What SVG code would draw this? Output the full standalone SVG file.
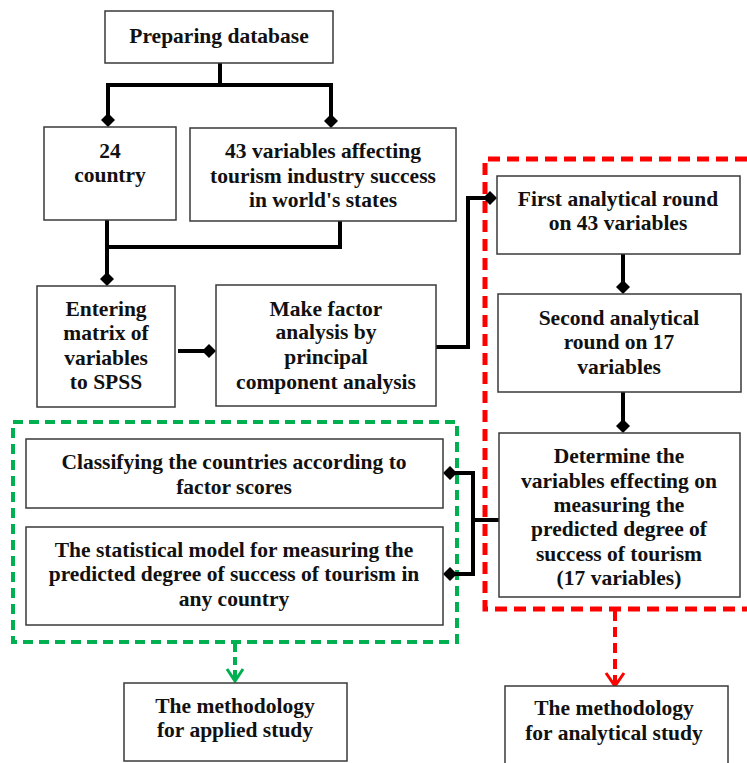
<svg xmlns="http://www.w3.org/2000/svg" width="747" height="763" viewBox="0 0 747 763">
<defs>
<style>
.box{fill:#fff;stroke:#3a3a3a;stroke-width:1.5}
.t{font-family:"Liberation Serif","Times New Roman",serif;font-weight:bold;font-size:21.5px;text-anchor:middle;fill:#111}
.c{fill:none;stroke:#000;stroke-width:4}
.red{fill:none;stroke:#ff0000;stroke-width:5;stroke-dasharray:12 7}
.green{fill:none;stroke:#00b050;stroke-width:4;stroke-dasharray:10 6}
</style>
<marker id="dia" viewBox="0 0 14 14" refX="7" refY="7" markerWidth="14" markerHeight="14" markerUnits="userSpaceOnUse" orient="auto">
<path d="M7 0 L14 7 L7 14 L0 7 Z" fill="#000"/>
</marker>
</defs>
<rect width="747" height="763" fill="#fff"/>

<g id="groups">
<path class="red" d="M747 159 H485 V609 H747"/>
<path class="green" d="M13 422 H457 V642 H13 Z"/>
</g>

<g id="connectors">
<path class="c" d="M220 63 V85 H108 V120" marker-end="url(#dia)"/>
<path class="c" d="M220 85 H331 V121" marker-end="url(#dia)"/>
<path class="c" d="M107 220 V247 H340 V221"/>
<path class="c" d="M107 247 V279" marker-end="url(#dia)"/>
<path class="c" d="M178 351 H209" marker-end="url(#dia)"/>
<path class="c" d="M436 347 H468 V198 H490" marker-end="url(#dia)"/>
<path class="c" d="M623 254 V287" marker-end="url(#dia)"/>
<path class="c" d="M623 392 V426" marker-end="url(#dia)"/>
<path class="c" d="M450 473 H473 V574 H450" marker-start="url(#dia)" marker-end="url(#dia)"/>
<path class="c" d="M473 520 H499"/>
<path fill="none" stroke="#00b050" stroke-width="4" stroke-dasharray="8 5" d="M235 644 V680"/>
<path fill="none" stroke="#00b050" stroke-width="3" d="M227 669 L235 681 L243 669"/>
<path fill="none" stroke="#ff0000" stroke-width="4" stroke-dasharray="10 6" d="M615 611 V685"/>
<path fill="none" stroke="#ff0000" stroke-width="3" d="M606 673 L615 686 L624 673"/>
</g>

<g id="n1"><rect class="box" x="105" y="11" width="228" height="52"/><text class="t" x="219" y="43">Preparing database</text></g>
<g id="n2"><rect class="box" x="44" y="127" width="132" height="93"/><text class="t" x="110" y="158">24</text><text class="t" x="110" y="182">country</text></g>
<g id="n3"><rect class="box" x="190" y="128" width="266" height="93"/><text class="t" x="323" y="158">43 variables affecting</text><text class="t" x="323" y="183">tourism industry success</text><text class="t" x="323" y="207">in world's states</text></g>
<g id="n4"><rect class="box" x="37" y="286" width="138" height="121"/><text class="t" x="106" y="316">Entering</text><text class="t" x="106" y="340">matrix of</text><text class="t" x="106" y="365">variables</text><text class="t" x="106" y="389">to SPSS</text></g>
<g id="n5"><rect class="box" x="216" y="285" width="220" height="121"/><text class="t" x="326" y="316">Make factor</text><text class="t" x="326" y="339">analysis by</text><text class="t" x="326" y="364">principal</text><text class="t" x="326" y="389">component analysis</text></g>
<g id="n6"><rect class="box" x="497" y="176" width="243" height="78"/><text class="t" x="618" y="206">First analytical round</text><text class="t" x="618" y="230">on 43 variables</text></g>
<g id="n7"><rect class="box" x="498" y="294" width="243" height="98"/><text class="t" x="619" y="325">Second analytical</text><text class="t" x="619" y="349">round on 17</text><text class="t" x="619" y="374">variables</text></g>
<g id="n8"><rect class="box" x="499" y="433" width="241" height="164"/><text class="t" x="619" y="463">Determine the</text><text class="t" x="619" y="488">variables effecting on</text><text class="t" x="619" y="512">measuring the</text><text class="t" x="619" y="536">predicted degree of</text><text class="t" x="619" y="561">success of tourism</text><text class="t" x="619" y="585">(17 variables)</text></g>
<g id="n9"><rect class="box" x="26" y="439" width="417" height="69"/><text class="t" x="234" y="469">Classifying the countries according to</text><text class="t" x="234" y="494">factor scores</text></g>
<g id="n10"><rect class="box" x="26" y="527" width="417" height="98"/><text class="t" x="234" y="557">The statistical model for measuring the</text><text class="t" x="234" y="581">predicted degree of success of tourism in</text><text class="t" x="234" y="606">any country</text></g>
<g id="n11"><rect class="box" x="124" y="683" width="223" height="78"/><text class="t" x="235" y="713">The methodology</text><text class="t" x="235" y="737">for applied study</text></g>
<g id="n12"><rect class="box" x="505" y="686" width="223" height="90"/><text class="t" x="614" y="715">The methodology</text><text class="t" x="614" y="740">for analytical study</text></g>
</svg>
